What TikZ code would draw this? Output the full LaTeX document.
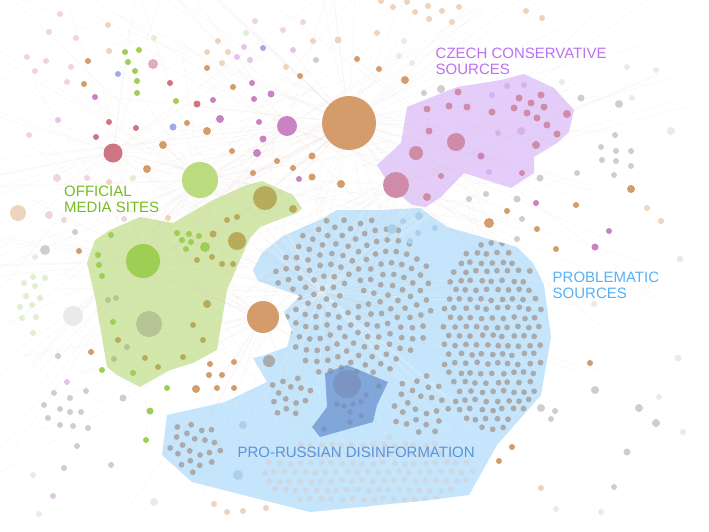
\documentclass[tikz,border=0pt]{standalone}
\usepackage{fontspec}
\setmainfont{Liberation Sans}
\usepackage{tikz}
\usetikzlibrary{positioning}

\definecolor{zonegreen}{RGB}{210,231,170}
\definecolor{zoneblue}{RGB}{196,229,251}
\definecolor{zonepurple}{RGB}{229,205,251}
\definecolor{zonedeep}{RGB}{104,142,204}
\definecolor{txtgreen}{RGB}{118,188,36}
\definecolor{txtpurple}{RGB}{188,112,245}
\definecolor{txtblue}{RGB}{88,176,245}
\definecolor{txtdeep}{RGB}{96,146,214}
\definecolor{dotorange}{RGB}{212,156,106}
\definecolor{dotpaleorange}{RGB}{238,212,188}
\definecolor{dotred}{RGB}{206,118,128}
\definecolor{dotpink}{RGB}{240,212,222}
\definecolor{dotrose}{RGB}{228,172,182}
\definecolor{dotpurple}{RGB}{202,130,196}
\definecolor{dotlilac}{RGB}{228,196,232}
\definecolor{dotlavender}{RGB}{160,170,228}
\definecolor{dotgreen}{RGB}{158,206,84}
\definecolor{dotbiggreen}{RGB}{186,220,126}
\definecolor{dotpalegreen}{RGB}{224,239,208}
\definecolor{dotolive}{RGB}{184,172,92}
\definecolor{dotsage}{RGB}{180,196,148}
\definecolor{dotgrey}{RGB}{170,170,170}
\definecolor{dotlightgrey}{RGB}{206,206,206}
\definecolor{dotpalegrey}{RGB}{234,234,234}
\definecolor{dotmauve}{RGB}{206,140,168}
\definecolor{dotpalelilac}{RGB}{214,178,234}
\definecolor{dotskyblue}{RGB}{172,208,236}
\definecolor{dotfaded}{RGB}{206,216,226}
\definecolor{linkpink}{RGB}{226,200,196}
\definecolor{linkblue}{RGB}{232,244,252}

\def\bluezone{(337,210) -- (320,220) -- (283,236) -- (262,253) -- (253,270) -- (258,281) -- (300,296) -- (284,312) -- (292,330) -- (287,347) -- (262,356) -- (253,358) -- (267,382) -- (225,402) -- (167,415) -- (162,455) -- (192,482) -- (310,512) -- (430,500) -- (469,495) -- (497,445) -- (541,395) -- (551,337) -- (544,285) -- (533,263) -- (517,247) -- (447,227) -- (420,208) -- (380,210) -- cycle}

\begin{document}
\begin{tikzpicture}[x=1pt,y=-1pt,
	zonetitle/.style={font=\fontsize{15}{16.3}\selectfont,align=left,anchor=north west,inner sep=0pt},
	link/.style={line width=0.3pt,draw=linkpink,draw opacity=0.22},
	spoke/.style={line width=0.3pt,draw=linkblue,draw opacity=0.6}]

	\useasboundingbox (0,0) rectangle (709,531);
	\fill[white] (0,0) rectangle (709,531);
	\clip (0,0) rectangle (709,531);

	% zones
	\fill[zoneblue] \bluezone;
	\fill[zonegreen] (262,181) -- (293,195) -- (302,208) -- (297,213) -- (278,220) -- (260,227) -- (250,238) -- (240,260) -- (227,290) -- (217,350) -- (193,363) -- (170,370) -- (140,387) -- (117,375) -- (107,367) -- (95,297) -- (87,263) -- (95,240) -- (110,230) -- (140,217) -- (173,223) -- (213,200) -- (247,185) -- cycle;
	\fill[zonepurple] (407,107) -- (457,87) -- (501,80) -- (524,74) -- (554,88) -- (574,110) -- (569,132) -- (557,143) -- (534,157) -- (534,173) -- (511,188) -- (464,173) -- (441,197) -- (426,207) -- (412,205) -- (391,187) -- (377,165) -- (401,143) -- cycle;

	% faint links
	\pgfmathsetseed{4}
	\foreach \hx/\hy/\k in {349/123/70, 322/292/40, 200/180/35, 287/126/25, 113/152/30, 263/317/30, 396/185/25, 143/261/30, 456/142/20}{
		\foreach \i in {1,...,\k}{
			\draw[link] (\hx,\hy) -- ++({rand*300},{rand*220});
		}
	}
	\begin{scope}
		\clip \bluezone;
		\foreach \i in {1,...,90}{
			\draw[spoke] (322,292) -- ++({rand*240},{rand*200});
		}
	\end{scope}

	% grey clusters in the problematic zone
	\begin{scope}
		\clip \bluezone;
		\foreach \i in {-10,...,10}{
			\foreach \j in {-4,...,4}{
				\pgfmathsetmacro\px{368+10.4*\i+5.2*mod(\j+4,2)+rand*1.2}
				\pgfmathsetmacro\py{472+9*\j+rand*1.2}
				\pgfmathtruncatemacro\inside{((\px-368)/108)^2+((\py-472)/36)^2<1}
				\ifnum\inside=1 \fill[dotfaded] (\px,\py) circle (2.9); \fi
			}
		}
		\foreach \cx/\cy/\c/\na/\nb in {352/298/6.2/3/175, 420/405/6.2/1/24, 290/395/5.8/1/14, 194/447/5.8/1/21}{
			\foreach \n in {\na,...,\nb}{
				\pgfmathsetmacro\rr{\c*sqrt(\n)}
				\pgfmathsetmacro\aa{360*mod(\n*0.381966,1)}
				\fill[dotgrey] ({\cx+\rr*cos(\aa)},{\cy+\rr*sin(\aa)}) circle (2.9);
			}
		}
		\foreach \i in {-5,...,5}{
			\foreach \j in {-10,...,10}{
				\pgfmathsetmacro\px{492+10.6*\i+5.3*mod(\j+12,2)+rand*1.3}
				\pgfmathsetmacro\py{336+9.2*\j+rand*1.3}
				\pgfmathtruncatemacro\inside{((\px-492)/52)^2+((\py-336)/95)^2<1}
				\ifnum\inside=1 \fill[dotgrey] (\px,\py) circle (2.9); \fi
			}
		}
	\end{scope}
	\foreach \x/\y/\r in {419/216/4, 403/221/3, 392/229/5, 418/233/3, 435/228/3, 410/241/3, 243/425/4, 238/475/5}
		\fill[dotskyblue] (\x,\y) circle (\r);
	\foreach \x/\y/\r in {337/404/2.8, 344/406/2.8, 353/404/2.8, 361/402/2.8, 366/395/2.8, 379/386/2.8, 350/412/2.8, 361/416/2.8, 350/422/2.8, 324/429/2.8, 347/384/14, 269/361/6}
		\fill[dotgrey] (\x,\y) circle (\r);
	\fill[zonedeep,fill opacity=0.72] (325,373) -- (347,365) -- (388,382) -- (377,405) -- (373,422) -- (320,437) -- (312,427) -- (327,407) -- cycle;

	% coloured dots
	\foreach \x/\y/\r in {349/123/27, 263/317/16, 207/131/4, 163/145/4, 147/169/4, 187/123/3, 232/151/3, 253/173/3, 277/161/3, 293/168/3, 312/156/3.5, 312/177/3.5, 341/184/4, 233/87/3, 300/76/3, 84/84/3, 88/61/3, 207/68/3, 405/80/4, 379/69/3, 357/59/3, 489/223/5, 507/211/3, 537/229/3, 556/249/3, 576/205/3, 631/189/4, 590/363/3, 512/447/3, 499/461/3, 91/352/3, 79/251/3, 210/364/3, 234/362/3, 209/375/3, 222/375/3, 196/389/4, 217/388/3, 234/388/3}
		\fill[dotorange] (\x,\y) circle (\r);
	\foreach \x/\y/\r in {18/213/8, 108/25/3, 218/41/3, 313/41/3, 338/40/3.5, 109/51/3, 207/52/3, 228/52/3, 222/63/3, 286/67/3, 377/33/3, 647/208/3, 661/221/3, 541/488/3, 214/504/3, 227/512/3, 243/511/3, 266/508/3, 168/218/3, 109/182/3, 381/1/3, 393/7/3, 407/2/3, 428/6/3, 442/11/3, 459/7/3, 415/12/3, 429/19/3, 452/22/3, 526/11/3, 542/18/3}
		\fill[dotpaleorange] (\x,\y) circle (\r);
	\foreach \x/\y/\r in {113/153/9.5, 170/83/3, 197/104/3.5, 109/122/3, 136/128/3, 96/137/3}
		\fill[dotred] (\x,\y) circle (\r);
	\foreach \x/\y/\r in {60/14/3, 49/32/3, 76/38/3, 255/21/3, 303/22/3, 283/30/3, 46/61/3, 27/57/3, 35/71/3, 71/67/3, 67/82/3, 29/135/3, 57/178/4, 87/178/3, 49/215/4, 64/220/3, 124/219/3}
		\fill[dotpink] (\x,\y) circle (\r);
	\fill[dotrose] (153,64) circle (5);
	\foreach \x/\y/\r in {287/126/10, 95/97/3, 213/100/3, 254/99/3, 271/94/3.5, 220/119/4, 259/122/3, 252/83/3, 263/139/3.5, 257/153/4, 299/179/3, 536/203/3, 609/231/3, 595/247/3.5, 481/156/3.5}
		\fill[dotpurple] (\x,\y) circle (\r);
	\foreach \x/\y/\r in {244/47/3, 237/57/3, 250/60/3, 293/50/3, 58/120/3, 67/382/3, 53/496/3}
		\fill[dotlilac] (\x,\y) circle (\r);
	\foreach \x/\y/\r in {118/74/3, 173/127/3.5, 263/48/3}
		\fill[dotlavender] (\x,\y) circle (\r);
	\fill[dotbiggreen] (200,180) circle (18);
	\foreach \x/\y/\r in {143/261/17, 135/71/3, 137/81/3, 137/93/3, 176/101/3, 125/52/3, 139/50/3, 128/62/3, 111/235/3, 177/233/3, 189/234/3, 199/236/3, 182/240/3, 191/242/3, 186/249/3, 205/247/5, 98/255/3, 99/265/3, 102/276/3, 113/322/3, 102/370/3, 133/373/3, 167/388/3, 150/411/3.5, 146/440/3}
		\fill[dotgreen] (\x,\y) circle (\r);
	\foreach \x/\y/\r in {154/38/3, 246/33/3, 133/178/3, 33/277/3, 45/278/3, 24/283/3, 35/286/3, 26/296/3, 40/298/3, 32/305/3, 20/307/3, 36/317/3, 22/318/3, 33/333/3}
		\fill[dotpalegreen] (\x,\y) circle (\r);
	\foreach \x/\y/\r in {265/198/12, 293/209/4, 227/220/3, 237/217/3, 213/234/3.5, 237/241/9, 197/260/3, 212/257/3, 222/264/3, 233/264/3, 207/304/4, 193/325/3, 203/340/3, 145/358/3, 158/367/3, 183/357/3, 118/340/3}
		\fill[dotolive] (\x,\y) circle (\r);
	\foreach \x/\y/\r in {149/324/13, 108/300/3, 116/298/3, 127/347/3, 114/359/3}
		\fill[dotsage] (\x,\y) circle (\r);
	\foreach \x/\y/\r in {316/60/3, 424/93/3, 441/89/4, 581/98/3.5, 619/104/4, 615/135/3, 601/147/3, 616/151/3, 631/151/3, 602/160/3, 616/161/3, 631/166/3, 577/173/3, 614/175/3, 540/178/3.5, 486/194/3, 469/199/3, 517/199/3.5, 522/219/3, 517/239/3, 595/390/4, 639/408/4, 541/408/4, 555/411/3, 551/419/3, 656/423/4, 627/452/3.5, 614/487/3, 86/391/3, 123/398/3.5, 58/356/3, 54/393/3, 70/398/3, 44/405/3, 60/409/3, 70/412/3, 81/412/3, 48/418/3, 60/425/3, 73/426/3, 88/428/3, 77/446/3, 64/468/3, 111/465/3, 75/232/3, 45/250/5}
		\fill[dotlightgrey] (\x,\y) circle (\r);
	\foreach \x/\y/\r in {73/316/10, 562/82/3, 632/98/3, 656/70/3, 627/67/3, 671/131/4, 680/259/3.5, 678/358/3.5, 659/397/3, 683/432/3, 594/304/3, 556/509/3, 601/512/3, 154/502/4, 39/514/3, 33/475/3, 35/257/3, 399/56/3, 404/41/3, 412/63/3}
		\fill[dotpalegrey] (\x,\y) circle (\r);
	\foreach \x/\y/\r in {427/109/3.5, 449/106/3.5, 467/107/3.5, 458/92/3.5, 519/98/3.5, 531/103/3.5, 541/95/3.5, 544/107/3.5, 514/108/3.5, 527/113/3.5, 492/112/3.5, 537/118/3.5, 547/125/3.5, 567/114/4, 557/134/3.5, 536/145/4, 429/131/3.5, 456/142/9, 416/153/7, 441/176/3, 522/173/3, 396/185/13, 427/197/4}
		\fill[dotmauve] (\x,\y) circle (\r);
	\foreach \x/\y/\r in {492/95/3, 507/86/3, 524/85/3, 498/133/3, 521/131/4, 489/172/3}
		\fill[dotpalelilac] (\x,\y) circle (\r);

	% zone titles
	\node[zonetitle,text=txtgreen] (official) at (64,185.5) {OFFICIAL\\MEDIA SITES};
	\node[zonetitle,text=txtpurple] (czech) at (435.5,48) {CZECH CONSERVATIVE\\SOURCES};
	\node[zonetitle,text=txtblue] (problematic) at (552.5,272) {PROBLEMATIC\\SOURCES};
	\node[zonetitle,text=txtdeep] (prorussian) at (237.3,447) {PRO-RUSSIAN DISINFORMATION};
\end{tikzpicture}
\end{document}
